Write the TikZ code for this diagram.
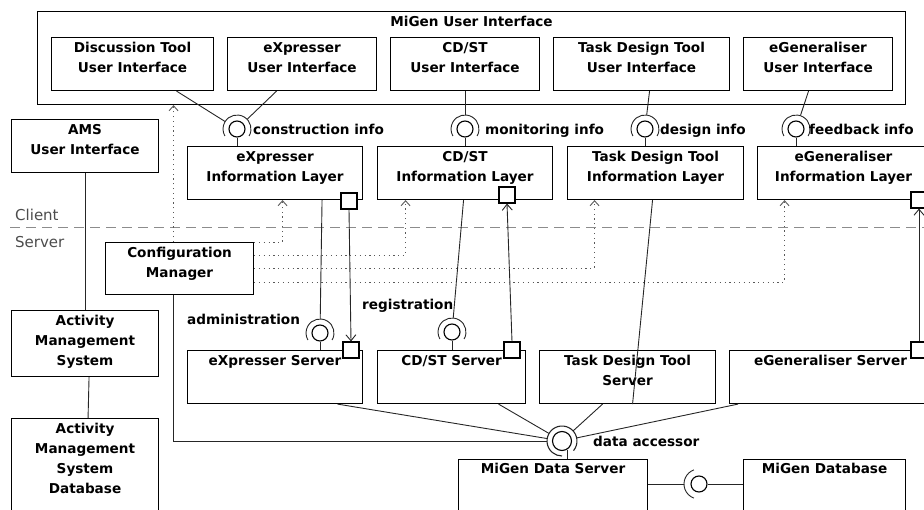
\documentclass[tikz,border=0pt]{standalone}
\usepackage{fontspec}
\setmainfont{DejaVu Sans}
\usetikzlibrary{arrows.meta,calc}
\begin{document}
\begin{tikzpicture}[x=1pt,y=-1pt,
  box/.style={draw=black, line width=1.1pt, fill=white, inner sep=0pt, anchor=north west},
  lbl/.style={font=\fontsize{13.6}{20}\selectfont\bfseries, inner sep=0pt, align=center, anchor=north, execute at begin node={\rule{0pt}{10.8pt}}},
  tag/.style={font=\fontsize{13.6}{16}\selectfont\bfseries, inner sep=0pt, anchor=base west},
  zone/.style={font=\fontsize{15}{18}\selectfont, text=black!70, inner sep=0pt, anchor=base west},
  port/.style={draw=black, line width=1.1pt, fill=white, minimum size=16pt, inner sep=0pt},
  ball/.style={circle, draw=black, line width=1.1pt, fill=white, minimum size=16pt, inner sep=0pt},
  sockarea/.style={circle, minimum size=28pt, inner sep=0pt},
  conn/.style={draw=black!85, line width=0.9pt},
  sep/.style={draw=black!45, line width=1pt, dash pattern=on 10pt off 6pt},
  dep/.style={draw=black!65, line width=0.9pt, dash pattern=on 1.2pt off 3.6pt, -{Straight Barb[length=5pt,width=9pt]}},
  flow/.style={conn, -{Straight Barb[length=6pt,width=10pt]}},
]
\useasboundingbox (0,0) rectangle (924,510);

% client / server separator
\coordinate (csl) at (10,228);
\coordinate (csr) at (924,228);
\draw[sep] (csl) -- (csr);
\node[zone] (client) at (15,221) {Client};
\node[zone] (server) at (15,248) {Server};

% MiGen User Interface
\node[box, minimum width=868pt, minimum height=93pt] (ui) at (37,11) {};
\node[lbl] (uit) at ([yshift=-5pt]ui.north) {MiGen User Interface};
\node[box, minimum width=162pt, minimum height=53pt] (dtui) at (51,37) {};
\node[lbl] (dtuit) at ([yshift=-5pt]dtui.north) {Discussion Tool\\User Interface};
\node[box, minimum width=149pt, minimum height=53pt] (exui) at (227,37) {};
\node[lbl] (exuit) at ([yshift=-5pt]exui.north) {eXpresser\\User Interface};
\node[box, minimum width=149pt, minimum height=53pt] (cdui) at (390,37) {};
\node[lbl] (cduit) at ([yshift=-5pt]cdui.north) {CD/ST\\User Interface};
\node[box, minimum width=176pt, minimum height=53pt] (tdui) at (553,37) {};
\node[lbl] (tduit) at ([yshift=-5pt]tdui.north) {Task Design Tool\\User Interface};
\node[box, minimum width=149pt, minimum height=53pt] (egui) at (743,37) {};
\node[lbl] (eguit) at ([yshift=-5pt]egui.north) {eGeneraliser\\User Interface};

% AMS column
\node[box, minimum width=147pt, minimum height=53pt] (amsui) at (11,119) {};
\node[lbl] (amsuit) at ([yshift=-5pt]amsui.north) {AMS\\User Interface};
\node[box, minimum width=147pt, minimum height=66pt] (ams) at (11,310) {};
\node[lbl] (amst) at ([yshift=-5pt]ams.north) {Activity\\Management\\System};
\node[box, minimum width=147pt, minimum height=112pt] (amsdb) at (11,418) {};
\node[lbl] (amsdbt) at ([yshift=-5pt]amsdb.north) {Activity\\Management\\System\\Database};

% information layers
\node[box, minimum width=175pt, minimum height=53pt] (exil) at (187,146) {};
\node[lbl] (exilt) at ([yshift=-5pt]exil.north) {eXpresser\\Information Layer};
\node[box, minimum width=175pt, minimum height=53pt] (cdil) at (377,146) {};
\node[lbl] (cdilt) at ([yshift=-5pt]cdil.north) {CD/ST\\Information Layer};
\node[box, minimum width=176pt, minimum height=53pt] (tdil) at (567,146) {};
\node[lbl] (tdilt) at ([yshift=-5pt]tdil.north) {Task Design Tool\\Information Layer};
\node[box, minimum width=172pt, minimum height=53pt] (egil) at (757,146) {};
\node[lbl] (egilt) at ([yshift=-5pt]egil.north) {eGeneraliser\\Information Layer};

% configuration manager
\node[box, minimum width=148pt, minimum height=52pt] (cm) at (105,242) {};
\node[lbl] (cmt) at ([yshift=-5pt]cm.north) {Configuration\\Manager};

% servers
\node[box, minimum width=175pt, minimum height=53pt] (exsv) at (187,350) {};
\node[lbl] (exsvt) at ([yshift=-5pt]exsv.north) {eXpresser Server};
\node[box, minimum width=148pt, minimum height=53pt] (cdsv) at (377,350) {};
\node[lbl] (cdsvt) at ([yshift=-5pt]cdsv.north) {CD/ST Server};
\node[box, minimum width=176pt, minimum height=53pt] (tdsv) at (539,350) {};
\node[lbl] (tdsvt) at ([yshift=-5pt]tdsv.north) {Task Design Tool\\Server};
\node[box, minimum width=202pt, minimum height=53pt] (egsv) at (729,350) {};
\node[lbl] (egsvt) at ([yshift=-5pt]egsv.north) {eGeneraliser Server};

% data
\node[box, minimum width=189pt, minimum height=71pt] (ds) at (458,459) {};
\node[lbl] (dst) at ([yshift=-4pt]ds.north) {MiGen Data Server};
\node[box, minimum width=162pt, minimum height=71pt] (db) at (743,459) {};
\node[lbl] (dbt) at ([yshift=-4pt]db.north) {MiGen Database};

% ports
\node[port] (exilp) at (349,201) {};
\node[port] (exsvp) at (351,350) {};
\node[port] (cdilp) at (507,195) {};
\node[port] (cdsvp) at (512,350) {};
\node[port] (egilp) at (919,200) {};
\node[port] (egsvp) at (919,350) {};

\draw[flow] (exilp.south) -- (exsvp.north);
\draw[flow] (cdsvp.north) -- (cdilp.south);
\draw[flow] (egsvp.north) -- (egilp.south);

% construction info
\node[ball] (cib) at (237,129) {};
\node[sockarea] (cis) at (237,129) {};
\draw[conn] ([shift={(-30:14pt)}]cis.center) arc[start angle=-30,end angle=210,radius=14pt];
\draw[conn] ([xshift=44pt]dtui.south) -- (cis);
\draw[conn] ([xshift=-25.5pt]exui.south) -- (cis);
\draw[conn] (cib) -- (cib |- exil.north);
\node[tag] (cinfo) at (253,135) {construction info};

% monitoring info
\node[ball] (mib) at (465,129) {};
\node[sockarea] (mis) at (465,129) {};
\draw[conn] ([shift={(-30:14pt)}]mis.center) arc[start angle=-30,end angle=210,radius=14pt];
\draw[conn] (cdui.south -| mis) -- (mis);
\draw[conn] (mib) -- (mib |- cdil.north);
\node[tag] (minfo) at (485,135) {monitoring info};

% design info
\node[ball] (dib) at (645,129) {};
\node[sockarea] (dis) at (645,129) {};
\draw[conn] ([shift={(-30:14pt)}]dis.center) arc[start angle=-30,end angle=210,radius=14pt];
\draw[conn] ([xshift=8pt]tdui.south) -- (dis);
\draw[conn] (dib) -- (dib |- tdil.north);
\node[tag] (dinfo) at (660,135) {design info};

% feedback info
\node[ball] (fib) at (796,129) {};
\node[sockarea] (fis) at (796,129) {};
\draw[conn] ([shift={(-30:14pt)}]fis.center) arc[start angle=-30,end angle=210,radius=14pt];
\draw[conn] ([xshift=-9.5pt]egui.south) -- (fis);
\draw[conn] (fib) -- (fib |- egil.north);
\node[tag] (finfo) at (809,135) {feedback info};

% administration
\node[ball] (adb) at (320,333) {};
\node[sockarea] (ads) at (320,333) {};
\draw[conn] ([shift={(-30:14pt)}]ads.center) arc[start angle=-30,end angle=210,radius=14pt];
\draw[conn] ([xshift=47pt]exil.south) -- (ads);
\draw[conn] (adb) -- (adb |- exsv.north);
\node[tag] (adm) at (187,325) {administration};

% registration
\node[ball] (rgb) at (452,332) {};
\node[sockarea] (rgs) at (452,332) {};
\draw[conn] ([shift={(-30:14pt)}]rgs.center) arc[start angle=-30,end angle=210,radius=14pt];
\draw[conn] ([xshift=-1.5pt]cdil.south) -- (rgs);
\draw[conn] (rgb) -- (rgb |- cdsv.north);
\node[tag] (reg) at (362,310) {registration};

% task design direct
\draw[conn] ([xshift=-3pt]tdil.south) -- ([xshift=5pt]tdsv.south);

% data accessor
\node[ball, minimum size=19pt] (dab) at (562,441) {};
\node[sockarea, minimum size=30pt] (das) at (562,441) {};
\draw[conn, line width=1.1pt] ([shift={(-40:15pt)}]das.center) arc[start angle=-40,end angle=270,radius=15pt];
\draw[conn] ([xshift=62.5pt]exsv.south) -- (das);
\draw[conn] ([xshift=47pt]cdsv.south) -- (das);
\draw[conn] ([xshift=-25pt]tdsv.south) -- (das);
\draw[conn] ([xshift=9pt]egsv.south west) -- (das);
\coordinate (cmbot) at ([xshift=-6pt]cm.south);
\draw[conn] (cmbot) |- (das);
\coordinate (dabl) at (dab.-60);
\draw[conn] (dabl) -- (dabl |- ds.north);
\node[tag] (dacc) at (593,447) {data accessor};

% database socket
\node[ball] (dbb) at (699,484) {};
\node[sockarea, minimum size=30pt] (dbs) at (699,484) {};
\draw[conn] ([shift={(110:15pt)}]dbs.center) arc[start angle=110,end angle=250,radius=15pt];
\draw[conn] (dbs -| ds.east) -- (dbs);
\draw[conn] (dbb) -- (dbb -| db.west);

% AMS links
\draw[conn] (amsui.south) -- (ams.north);
\draw[conn] ([xshift=4pt]ams.south) -- ([xshift=3pt]amsdb.north);

% configuration dependencies
\coordinate (cmtop) at ([xshift=-6pt]cm.north);
\draw[dep] (cmtop) -- (cmtop |- ui.south);
\coordinate (exq) at ([xshift=7.5pt]exil.south);
\coordinate (cdq) at ([xshift=-59.5pt]cdil.south);
\coordinate (tdq) at ([xshift=-61pt]tdil.south);
\coordinate (egq) at ([xshift=-59pt]egil.south);
\coordinate (cmr0) at (cm.north east);
\coordinate (cmr1) at ([yshift=-13pt]cm.north east);
\coordinate (cmr2) at ([yshift=-26pt]cm.north east);
\coordinate (cmr3) at ([yshift=-40pt]cm.north east);
\draw[dep] (cmr0) -| (exq);
\draw[dep] (cmr1) -| (cdq);
\draw[dep] (cmr2) -| (tdq);
\draw[dep] (cmr3) -| (egq);
\end{tikzpicture}
\end{document}
